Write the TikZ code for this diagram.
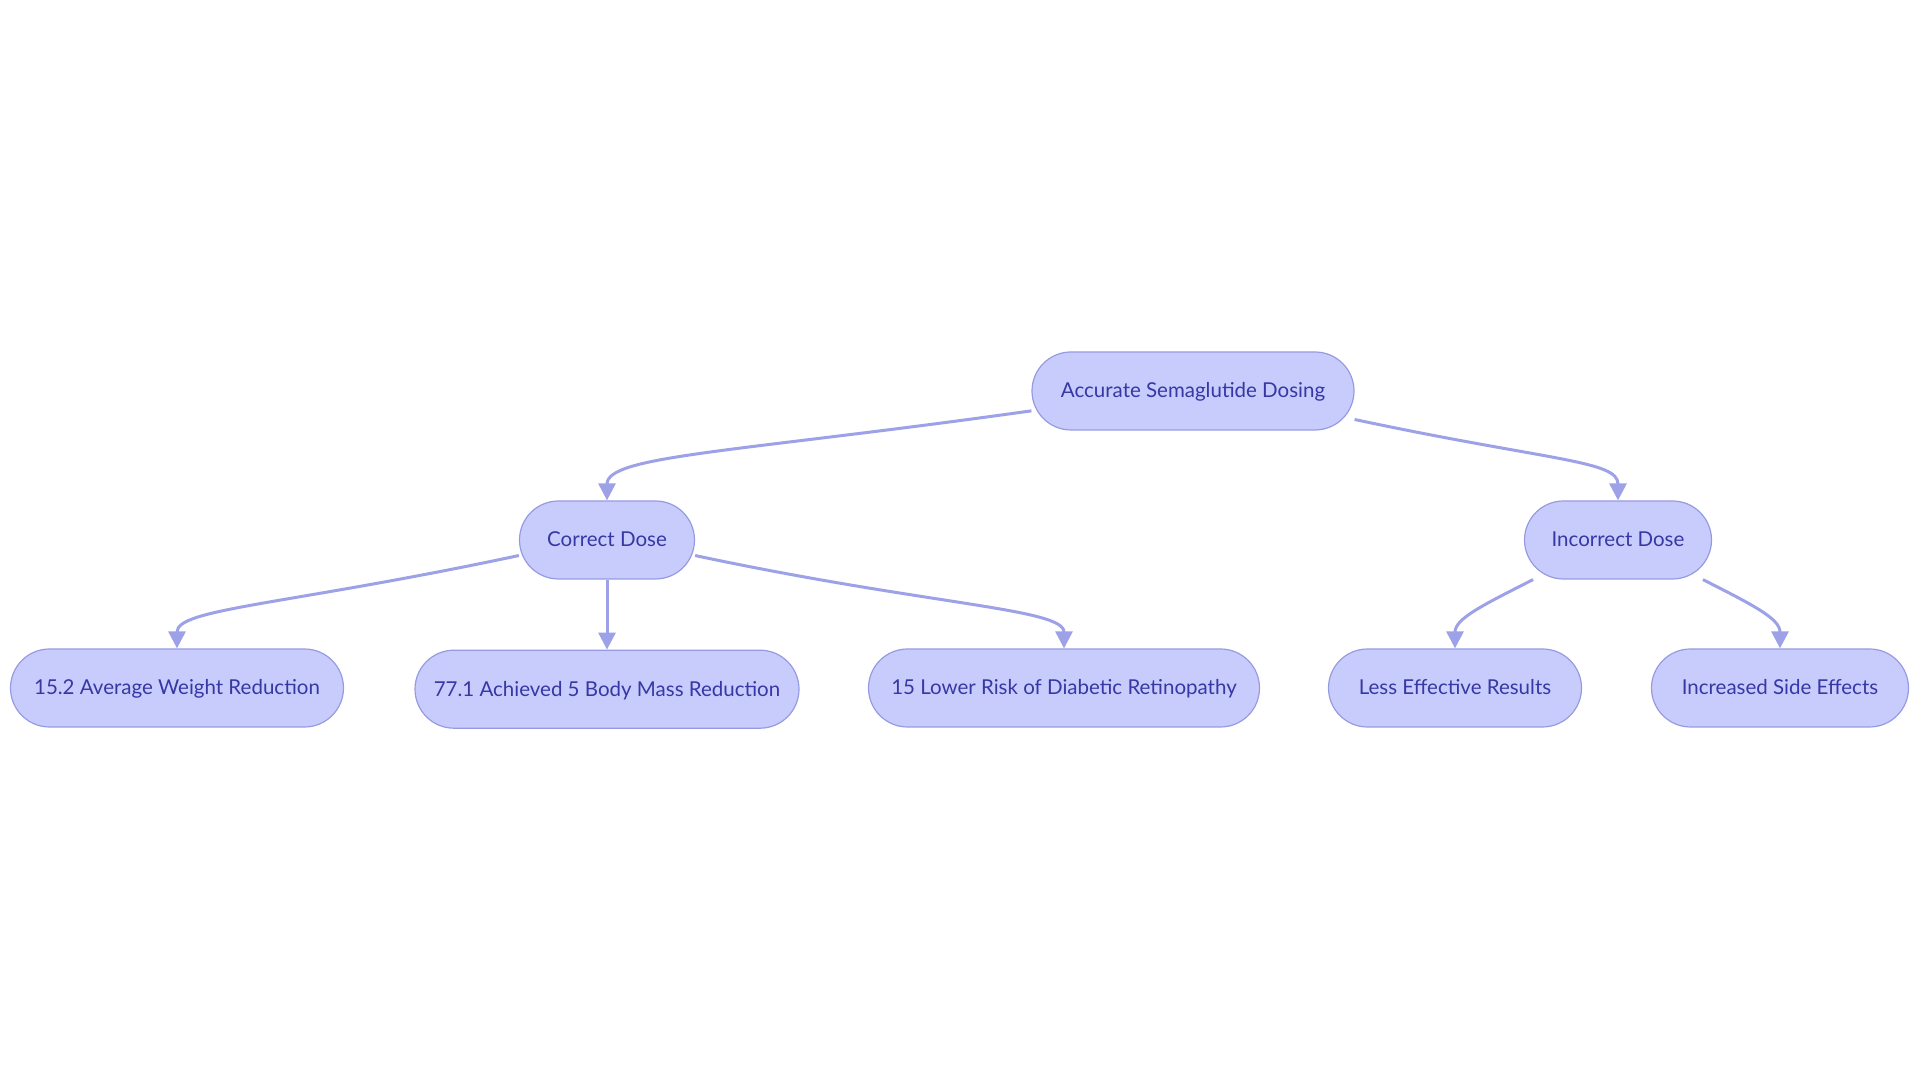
\documentclass[tikz,border=0pt]{standalone}
\usepackage{fontspec}
\setmainfont{Lato}
\usetikzlibrary{positioning,arrows.meta}
\definecolor{boxfill}{RGB}{200,204,252}
\definecolor{boxline}{RGB}{150,155,225}
\definecolor{boxtext}{RGB}{55,55,165}
\definecolor{edgec}{RGB}{157,161,232}
\tikzset{
  box/.style={draw=boxline, line width=1.2pt, fill=boxfill, text=boxtext,
    rounded corners=39pt, minimum height=78pt, inner sep=0pt,
    text height=16pt, text depth=2pt,
    font=\fontsize{20.5}{23}\selectfont},
  link/.style={draw=edgec, line width=3pt, -{Triangle[length=17pt,width=17pt]}}
}
\begin{document}
\begin{tikzpicture}[x=1pt,y=1pt]
\useasboundingbox (0,0) rectangle (1920,1083);
\node[box, minimum width=322pt](root) at (1193,692){Accurate Semaglutide Dosing};
\node[box, minimum width=175pt](correct) at (607,543){Correct Dose};
\node[box, minimum width=187pt](incorrect) at (1618,543){Incorrect Dose};
\node[box, minimum width=384pt, below=70pt of correct](mass){77.1 Achieved 5 Body Mass Reduction};
\node[box, minimum width=333pt](weight) at (177,395){15.2 Average Weight Reduction};
\node[box, minimum width=391pt](retina) at (1064,395){15 Lower Risk of Diabetic Retinopathy};
\node[box, minimum width=253pt](less) at (1455,395){Less Effective Results};
\node[box, minimum width=257pt](side) at (1780,395){Increased Side Effects};
\draw[link] (root.187) .. controls +(188:300) and +(0,45) .. (correct.north);
\draw[link] (root.350) .. controls +(-12:200) and +(0,40) .. (incorrect.north);
\draw[link] (correct.190) .. controls +(192:240) and +(0,40) .. (weight.north);
\draw[link] (correct.south) -- (mass.north);
\draw[link] (correct.350) .. controls +(-12:240) and +(0,40) .. (retina.north);
\draw[link] (incorrect.205) .. controls +(207:55) and +(0,30) .. (less.north);
\draw[link] (incorrect.335) .. controls +(-27:55) and +(0,30) .. (side.north);
\end{tikzpicture}
\end{document}
